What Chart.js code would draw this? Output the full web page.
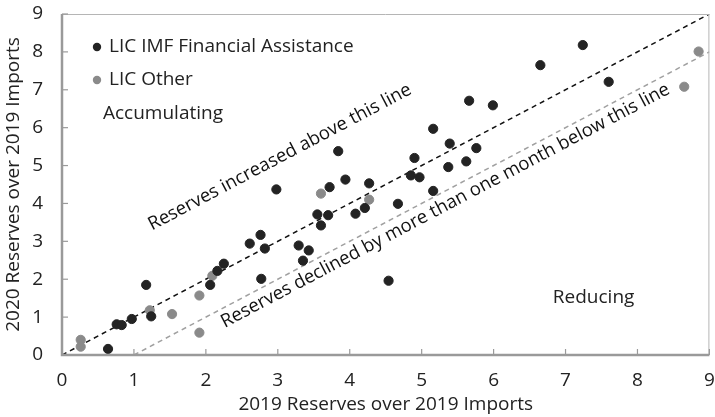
<!DOCTYPE html>
<html>
<head>
<meta charset="utf-8">
<script src="https://cdn.jsdelivr.net/npm/chart.js@4.4.1/dist/chart.umd.min.js"></script>
<style>
  body { margin: 0; background: #fff; }
  #wrap { width: 715px; height: 417px; }
</style>
</head>
<body>
<div id="wrap"><canvas id="grafico"></canvas></div>
<script>
// datos (meses de importaciones)
const imfX = [0.64, 0.76, 0.83, 0.97, 1.17, 1.24, 2.06, 2.16, 2.25, 2.61, 2.76, 2.82, 2.77, 2.98, 3.29, 3.43, 3.35, 3.55, 3.60, 3.70, 3.72,
  3.84, 3.94, 4.08, 4.21, 4.27, 4.54, 4.67, 4.85, 4.90, 4.97, 5.16, 5.16, 5.37, 5.39, 5.62, 5.66, 5.76, 5.99, 6.65, 7.24, 7.60]
const imfY = [0.16, 0.81, 0.79, 0.95, 1.85, 1.02, 1.85, 2.22, 2.41, 2.94, 3.17, 2.81, 2.01, 4.37, 2.89, 2.76, 2.49, 3.71, 3.42, 3.69, 4.43,
  5.38, 4.63, 3.73, 3.88, 4.53, 1.96, 3.99, 4.74, 5.20, 4.69, 4.33, 5.97, 4.96, 5.58, 5.11, 6.71, 5.46, 6.59, 7.65, 8.18, 7.21]

const otherX = [0.26, 0.26, 1.22, 1.53, 1.91, 1.91, 2.09, 3.60, 4.27, 8.65, 8.85]
const otherY = [0.40, 0.22, 1.18, 1.08, 1.57, 0.59, 2.09, 4.26, 4.10, 7.08, 8.01]

// lineas de referencia: y = x  y  y = x - 1
const lineaIgualX = [0, 9]
const lineaIgualY = [0, 9]
const lineaMenosX = [1, 9]
const lineaMenosY = [0, 8]

const ticksEje = [0, 1, 2, 3, 4, 5, 6, 7, 8, 9]

const etiquetas = {
  imf: 'LIC IMF Financial Assistance',
  otros: 'LIC Other',
  arriba: 'Reserves increased above this line',
  abajo: 'Reserves declined by more than one month below this line',
  acumula: 'Accumulating',
  reduce: 'Reducing',
  ejeX: '2019 Reserves over 2019 Imports',
  ejeY: '2020 Reserves over 2019 Imports'
}

const FUENTE = '"Open Sans", sans-serif'
const TAM = 19
const NEGRO = '#232323'
const GRIS = '#8a8a8a'

function pares(xs, ys) {
  return xs.map((x, i) => ({ x: x, y: ys[i] }))
}

// dibuja bordes, marcas hacia adentro, leyenda y textos
const extras = {
  id: 'extras',
  afterDatasetsDraw(chart) {
    const ctx = chart.ctx
    const a = chart.chartArea
    const sx = chart.scales.x
    const sy = chart.scales.y
    ctx.save()

    // borde superior y derecho
    ctx.strokeStyle = '#b5b5b5'
    ctx.lineWidth = 1
    ctx.beginPath()
    ctx.moveTo(a.left, a.top + 0.5)
    ctx.lineTo(a.right - 0.5, a.top + 0.5)
    ctx.lineTo(a.right - 0.5, a.bottom)
    ctx.stroke()

    // ejes izquierdo e inferior
    ctx.strokeStyle = '#9a9a9a'
    ctx.lineWidth = 2.5
    ctx.beginPath()
    ctx.moveTo(a.left, a.top)
    ctx.lineTo(a.left, a.bottom)
    ctx.lineTo(a.right, a.bottom)
    ctx.stroke()

    ctx.lineWidth = 1.2
    ticksEje.forEach(v => {
      const px = sx.getPixelForValue(v)
      ctx.beginPath()
      ctx.moveTo(px, a.bottom)
      ctx.lineTo(px, a.bottom - 6)
      ctx.stroke()
      const py = sy.getPixelForValue(v)
      ctx.beginPath()
      ctx.moveTo(a.left, py)
      ctx.lineTo(a.left + 6, py)
      ctx.stroke()
    })

    // leyenda
    ctx.font = TAM + 'px ' + FUENTE
    ctx.textBaseline = 'middle'
    ctx.textAlign = 'left'
    const leyenda = [[etiquetas.imf, NEGRO, 47], [etiquetas.otros, GRIS, 80]]
    leyenda.forEach(item => {
      ctx.fillStyle = item[1]
      ctx.beginPath()
      ctx.arc(a.left + 35, item[2], 4.2, 0, Math.PI * 2)
      ctx.fill()
      ctx.fillStyle = '#222'
      ctx.fillText(item[0], a.left + 47, item[2])
    })

    ctx.fillText(etiquetas.acumula, sx.getPixelForValue(0.57), sy.getPixelForValue(6.37))
    ctx.textAlign = 'center'
    ctx.fillText(etiquetas.reduce, sx.getPixelForValue(7.39), sy.getPixelForValue(1.52))

    // textos rotados paralelos a las lineas
    const ang = Math.atan2(sy.getPixelForValue(1) - sy.getPixelForValue(0), sx.getPixelForValue(1) - sx.getPixelForValue(0))
    const rotado = (txt, x, y) => {
      ctx.save()
      ctx.translate(sx.getPixelForValue(x), sy.getPixelForValue(y))
      ctx.rotate(ang)
      ctx.fillText(txt, 0, 0)
      ctx.restore()
    }
    ctx.fillStyle = '#111'
    ctx.font = '18.5px ' + FUENTE
    rotado(etiquetas.arriba, 3.03, 5.22)
    rotado(etiquetas.abajo, 5.33, 3.94)

    ctx.restore()
  }
}

const ctx = document.getElementById('grafico').getContext('2d')
const chart = new Chart(ctx, {
  type: 'scatter',
  data: {
    datasets: [
      {
        label: etiquetas.imf,
        data: pares(imfX, imfY),
        backgroundColor: NEGRO,
        borderColor: NEGRO,
        pointRadius: 4.6,
        pointHoverRadius: 4.6,
        order: 0
      },
      {
        label: etiquetas.otros,
        data: pares(otherX, otherY),
        backgroundColor: GRIS,
        borderColor: GRIS,
        pointRadius: 4.6,
        pointHoverRadius: 4.6,
        order: 0
      },
      {
        label: 'y = x',
        data: pares(lineaIgualX, lineaIgualY),
        showLine: true,
        borderColor: '#111',
        borderWidth: 1.5,
        borderDash: [5, 4],
        pointRadius: 0,
        order: 1
      },
      {
        label: 'y = x - 1',
        data: pares(lineaMenosX, lineaMenosY),
        showLine: true,
        borderColor: '#a0a0a0',
        borderWidth: 1.5,
        borderDash: [5, 4],
        pointRadius: 0,
        order: 1
      }
    ]
  },
  options: {
    responsive: true,
    maintainAspectRatio: false,
    animation: false,
    layout: { padding: { top: 14, right: 1, left: 0, bottom: 0 } },
    plugins: {
      legend: { display: false },
      tooltip: { enabled: false }
    },
    scales: {
      x: {
        type: 'linear',
        min: 0,
        max: 9,
        afterFit: s => {
          s.height = 62
          s.paddingLeft = 0
          s.paddingRight = 0
        },
        grid: { display: false, drawTicks: false, tickLength: 0 },
        border: { display: false },
        ticks: { stepSize: 1, padding: 14, color: '#222', font: { family: FUENTE, size: TAM } },
        title: { display: true, text: etiquetas.ejeX, color: '#222', font: { family: FUENTE, size: TAM }, padding: { top: 0, bottom: 1 } }
      },
      y: {
        type: 'linear',
        min: 0,
        max: 9,
        afterFit: s => {
          s.width = 62
          s.paddingTop = 0
          s.paddingBottom = 0
        },
        grid: { display: false, drawTicks: false, tickLength: 0 },
        border: { display: false },
        ticks: { stepSize: 1, padding: 19, color: '#222', font: { family: FUENTE, size: TAM } },
        title: { display: true, text: etiquetas.ejeY, color: '#222', font: { family: FUENTE, size: TAM }, padding: { top: 2, bottom: 0 } }
      }
    }
  },
  plugins: [extras]
})
</script>
</body>
</html>
